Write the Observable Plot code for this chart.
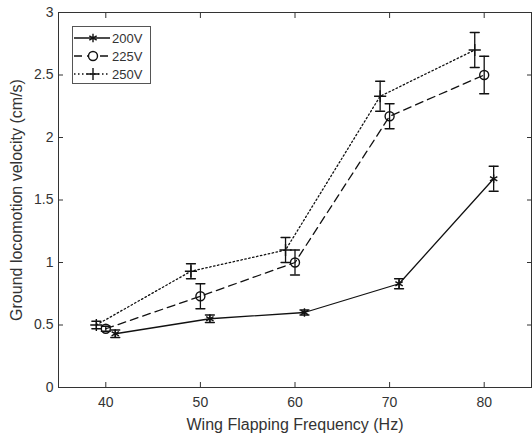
<!DOCTYPE html>
<html><head><meta charset="utf-8">
<script src="https://cdn.jsdelivr.net/npm/d3@7"></script>
<script src="https://cdn.jsdelivr.net/npm/@observablehq/plot@0.6"></script>
<style>
body{margin:0;background:#fff;}
#wrap{position:relative;width:532px;height:437px;font-family:"Liberation Sans",Arial,sans-serif;}
#legend{position:absolute;left:72px;top:26px;width:79px;height:58px;border:1px solid #555;background:#fff;box-sizing:border-box;}
</style></head>
<body><div id="wrap"><div id="legend"></div></div>
<script>
const series = ["200V", "225V", "250V"];
const freq200 = [41, 51, 61, 71, 81];
const vel200 = [0.43, 0.55, 0.60, 0.83, 1.67];
const err200 = [0.03, 0.03, 0.02, 0.04, 0.10];
const freq225 = [40, 50, 60, 70, 80];
const vel225 = [0.47, 0.73, 1.00, 2.17, 2.50];
const err225 = [0.02, 0.10, 0.10, 0.10, 0.15];
const freq250 = [39, 49, 59, 69, 79];
const vel250 = [0.50, 0.93, 1.10, 2.33, 2.70];
const err250 = [0.03, 0.06, 0.10, 0.12, 0.14];
const xTicks = [40, 50, 60, 70, 80];
const yTicks = [0, 0.5, 1, 1.5, 2, 2.5, 3];

const symbols = {"200V": "asterisk", "225V": "circle", "250V": "plus"};
const dashes = {"200V": null, "225V": "8,5", "250V": "1.5,2.5"};

function rows(name, f, v, e) {
  return f.map((x, i) => ({series: name, x, y: v[i], lo: v[i] - e[i], hi: v[i] + e[i]}));
}
const data = [
  ...rows("200V", freq200, vel200, err200),
  ...rows("225V", freq225, vel225, err225),
  ...rows("250V", freq250, vel250, err250)
];

const capShape = {draw(context, l) { context.moveTo(0, 0); context.lineTo(0, -l); }};

const marks = [];
for (const s of series) {
  const d = data.filter(r => r.series === s);
  marks.push(Plot.line(d, {x: "x", y: "y", stroke: "#111", strokeWidth: 1.3, strokeDasharray: dashes[s]}));
}
marks.push(Plot.ruleX(data, {x: "x", y1: "lo", y2: "hi", stroke: "#111", strokeWidth: 1.3}));
marks.push(Plot.vector(data, {x: "x", y: "lo", length: 9, rotate: 90, anchor: "middle", shape: capShape, stroke: "#111", strokeWidth: 1.3}));
marks.push(Plot.vector(data, {x: "x", y: "hi", length: 9, rotate: 90, anchor: "middle", shape: capShape, stroke: "#111", strokeWidth: 1.3}));
for (const s of series) {
  const d = data.filter(r => r.series === s);
  marks.push(Plot.dot(d, {x: "x", y: "y", symbol: () => symbols[s], r: s === "225V" ? 4.5 : 4, stroke: "#111", strokeWidth: 1.4, fill: "none"}));
}

const chart = Plot.plot({
  width: 532, height: 437,
  marginLeft: 58, marginRight: 1, marginTop: 12, marginBottom: 50,
  style: {fontFamily: "'Liberation Sans', Arial, sans-serif", fontSize: "14px", color: "#333", background: "transparent"},
  symbol: {type: "identity"},
  x: {domain: [35, 85]},
  y: {domain: [0, 3]},
  marks: [
    Plot.frame({stroke: "#333", strokeWidth: 1}),
    Plot.axisX({ticks: xTicks, tickSize: -5, tickPadding: 15, tickFormat: d => d, fontSize: 14, label: null, stroke: "#333"}),
    Plot.axisX({ticks: [], label: "Wing Flapping Frequency (Hz)", labelAnchor: "center", labelArrow: "none", labelOffset: 42, fontSize: 16}),
    Plot.axisX({ticks: xTicks, anchor: "top", tickSize: -5, tickFormat: () => "", label: null, stroke: "#333"}),
    Plot.axisY({ticks: yTicks, tickSize: -5, tickPadding: 10, tickFormat: d => String(d), fontSize: 14, label: null, stroke: "#333"}),
    Plot.axisY({ticks: [], label: "Ground locomotion velocity (cm/s)", labelAnchor: "center", labelArrow: "none", labelOffset: 48, fontSize: 16}),
    Plot.axisY({ticks: yTicks, anchor: "right", tickSize: -5, tickFormat: () => "", label: null, stroke: "#333"}),
    ...marks
  ]
});
document.getElementById("wrap").prepend(chart);
chart.style.position = "absolute"; chart.style.left = "0"; chart.style.top = "0";

// legend
const lw = 79, lh = 58;
const leg = d3.select("#legend").append("svg").attr("width", lw - 2).attr("height", lh - 2);
const paths = {asterisk: d3.symbolAsterisk, circle: d3.symbolCircle, plus: d3.symbolPlus};
series.forEach((s, i) => {
  const yy = 11 + i * 18;
  leg.append("line").attr("x1", 1).attr("x2", 37).attr("y1", yy).attr("y2", yy)
    .attr("stroke", "#111").attr("stroke-width", 1.3).attr("stroke-dasharray", dashes[s]);
  const r = s === "225V" ? 4.5 : 4;
  leg.append("path").attr("d", d3.symbol(paths[symbols[s]], Math.PI * r * r)())
    .attr("transform", `translate(20,${yy})`)
    .attr("fill", s === "225V" ? "#fff" : "none").attr("stroke", "#111").attr("stroke-width", 1.4);
  leg.append("text").attr("x", 39).attr("y", yy).attr("dy", "0.35em")
    .attr("font-size", 13).attr("fill", "#333").text(s);
});
</script></body></html>
